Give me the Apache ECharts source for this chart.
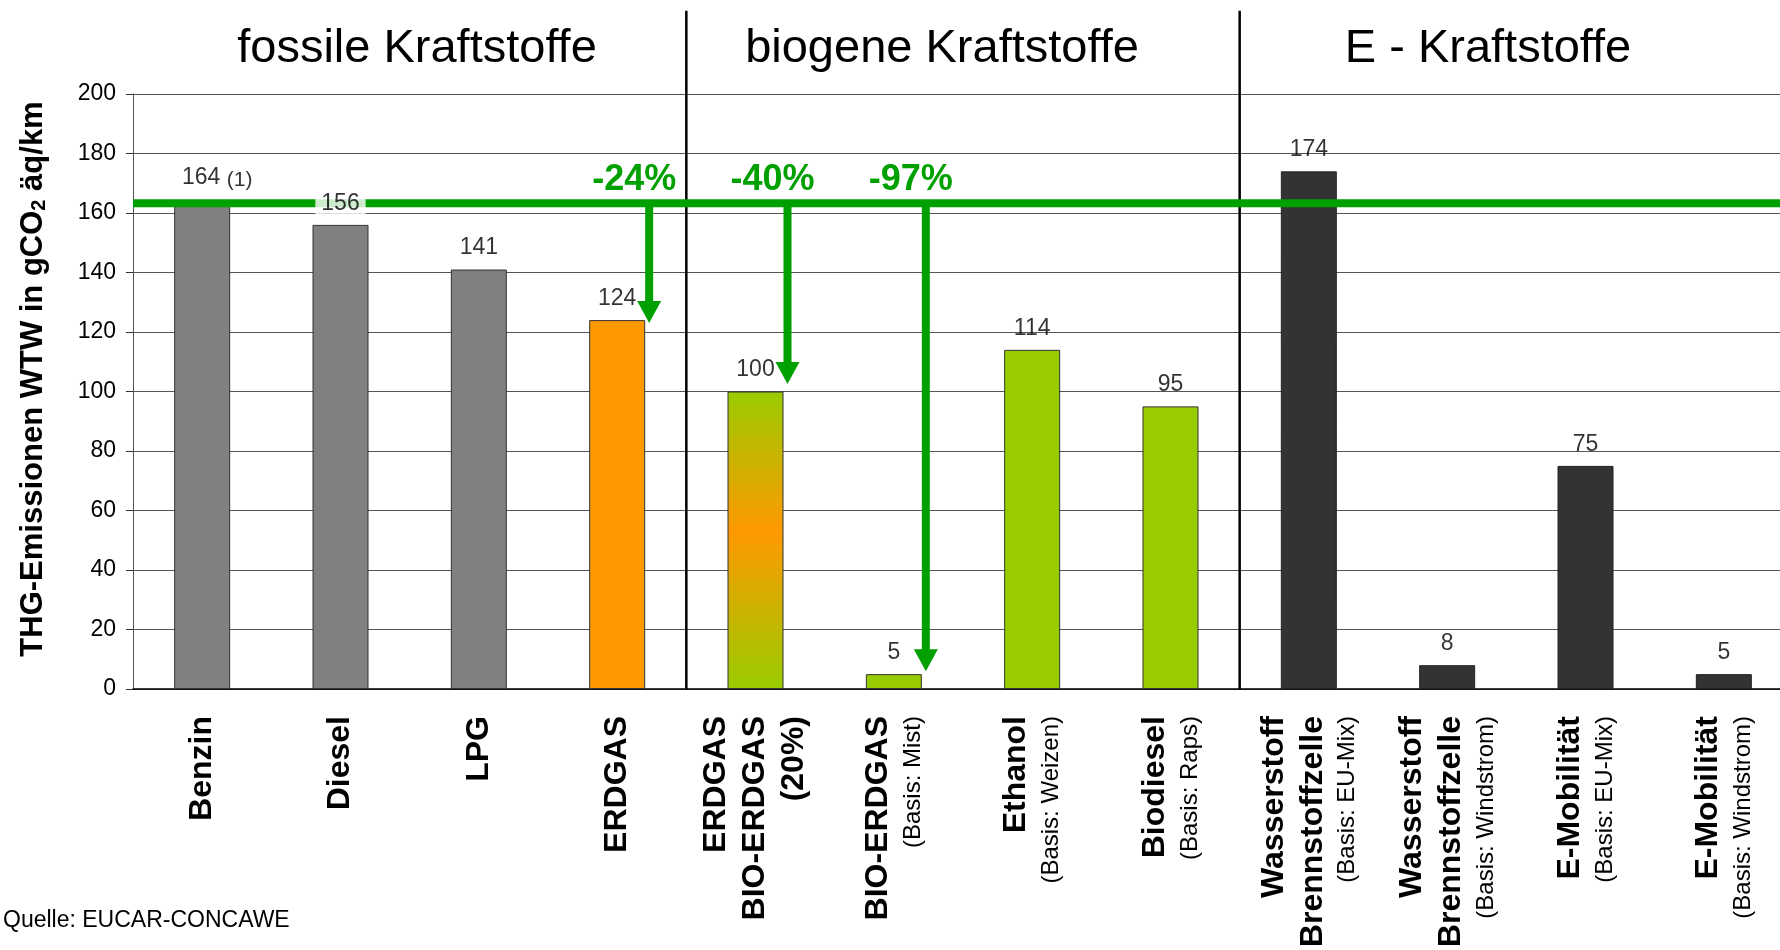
<!DOCTYPE html>
<html lang="de">
<head>
    <meta charset="UTF-8">
    <title>THG-Emissionen WTW</title>
    <style>html, body { margin: 0; padding: 0; background: #fff; }</style>
</head>
<body>
    <div id="main" style="width: 1780px;height:950px;"></div>
    <script src="https://cdn.jsdelivr.net/npm/echarts@6.0.0/dist/echarts.min.js"></script>
    <script type="text/javascript">
        var FONT = '"Liberation Sans", Arial, Helvetica, sans-serif';

        // Kategorien: fette Zeilen + Zusatz in Klammern
        var categories = ['Benzin', 'Diesel', 'LPG', 'ERDGAS', 'ERDGAS\nBIO-ERDGAS\n(20%)', 'BIO-ERDGAS',
            'Ethanol', 'Biodiesel', 'Wasserstoff\nBrennstoffzelle', 'Wasserstoff\nBrennstoffzelle',
            'E-Mobilität', 'E-Mobilität'];
        var categoryNotes = ['', '', '', '', '', '(Basis: Mist)', '(Basis: Weizen)', '(Basis: Raps)',
            '(Basis: EU-Mix)', '(Basis: Windstrom)', '(Basis: EU-Mix)', '(Basis: Windstrom)'];
        var emissions = [164, 156, 141, 124, 100, 5, 114, 95, 174, 8, 75, 5];
        var valueNotes = ['(1)', '', '', '', '', '', '', '', '', '', '', ''];
        var barKinds = ['fossil', 'fossil', 'fossil', 'erdgas', 'mix', 'bio', 'bio', 'bio', 'e', 'e', 'e', 'e'];

        var groupTitles = ['fossile Kraftstoffe', 'biogene Kraftstoffe', 'E - Kraftstoffe'];
        var groupSeparators = [4, 8];     // Trennlinie vor diesem Kategorie-Index
        var referenceValue = 163.3;       // Benzin-Niveau (gruene Linie)
        var arrowCategories = [3, 4, 5];
        var arrowTips = [123, 102.5, 6];
        var arrowTexts = ['-24%', '-40%', '-97%'];

        var Y_MIN = 0, Y_MAX = 200, Y_STEP = 20;

        var GREEN = '#00A000';
        var kindColors = {
            fossil: '#808080',
            erdgas: '#FF9900',
            mix: new echarts.graphic.LinearGradient(0, 0, 0, 1, [
                {offset: 0, color: '#99CC00'},
                {offset: 0.47, color: '#FF9900'},
                {offset: 1, color: '#99CC00'}
            ]),
            bio: '#99CC00',
            e: '#333333'
        };

        var myChart = echarts.init(document.getElementById('main'));

        var barData = emissions.map(function (v, i) {
            return {
                value: v,
                itemStyle: {color: kindColors[barKinds[i]], borderColor: barKinds[i] === 'e' ? '#222' : '#333', borderWidth: 1}
            };
        });

        // Wertebeschriftungen als eigene Serie (liegt ueber der gruenen Linie)
        var labelData = emissions.map(function (v, i) {
            var crossesLine = v < referenceValue && v > referenceValue - 12;
            return {
                value: [i, v],
                label: {
                    offset: valueNotes[i] ? [15, 0] : [0, 0],
                    backgroundColor: crossesLine ? '#fff' : 'transparent',
                    padding: crossesLine ? [0, 6] : 0
                }
            };
        });

        var option = {
            animation: false,
            title: groupTitles.map(function (t, i) {
                return {
                    text: t,
                    left: [417, 942, 1488][i],
                    top: 26,
                    padding: 0,
                    textAlign: 'center',
                    textStyle: {fontFamily: FONT, fontSize: 47, fontWeight: 'normal', color: '#000'}
                };
            }).concat([{
                text: 'Quelle: EUCAR-CONCAWE',
                left: 3,
                top: 909,
                padding: 0,
                textStyle: {fontFamily: FONT, fontSize: 23, fontWeight: 'normal', color: '#000'}
            }]),
            grid: {left: 133, top: 94, width: 1660, height: 595, outerBoundsMode: 'none'},
            xAxis: {
                type: 'category',
                data: categories,
                axisLine: {lineStyle: {color: '#000', width: 1.5}},
                axisTick: {length: 7, lineStyle: {color: '#000', width: 1}},
                axisLabel: {
                    interval: 0,
                    rotate: 90,
                    margin: 27,
                    color: '#000',
                    fontFamily: FONT,
                    formatter: function (val, idx) {
                        var s = val.split('\n').map(function (l) { return '{b|' + l + '}'; }).join('\n');
                        if (categoryNotes[idx]) s += '\n{s|' + categoryNotes[idx] + '}';
                        return s;
                    },
                    rich: {
                        b: {fontFamily: FONT, fontSize: 32, fontWeight: 'bold', color: '#000', lineHeight: 39},
                        s: {fontFamily: FONT, fontSize: 24, color: '#000', lineHeight: 31}
                    }
                }
            },
            yAxis: {
                type: 'value',
                min: Y_MIN,
                max: Y_MAX,
                interval: Y_STEP,
                name: 'THG-Emissionen WTW in gCO{sub|2} äq/km',
                nameLocation: 'middle',
                nameGap: 84,
                nameTextStyle: {
                    fontFamily: FONT, fontSize: 31, fontWeight: 'bold', color: '#000',
                    padding: [0, 0, 0, 25],
                    rich: {
                        sub: {fontFamily: FONT, fontSize: 20, fontWeight: 'bold', color: '#000', verticalAlign: 'bottom', lineHeight: 30}
                    }
                },
                axisLine: {show: true, lineStyle: {color: '#555', width: 1}},
                axisTick: {show: true, length: 7, lineStyle: {color: '#333'}},
                axisLabel: {fontFamily: FONT, fontSize: 23, color: '#000', margin: 17},
                splitLine: {lineStyle: {color: '#555', width: 1}}
            },
            series: [
                {
                    type: 'bar',
                    z: 2,
                    barWidth: 56,
                    data: barData,
                    silent: true
                },
                {
                    // Trennlinien zwischen den Gruppen
                    type: 'custom',
                    z: 2,
                    silent: true,
                    clip: false,
                    data: groupSeparators.map(function (c) { return [c, 0]; }),
                    encode: {x: 0, y: 1},
                    renderItem: function (params, api) {
                        var band = api.size([1, 0])[0];
                        var p0 = api.coord([api.value(0), 0]);
                        var p1 = api.coord([api.value(0), 228]);
                        var x = p0[0] - band / 2;
                        return {
                            type: 'line',
                            shape: {x1: x, y1: p0[1], x2: x, y2: p1[1]},
                            style: {stroke: '#000', lineWidth: 2.5}
                        };
                    }
                },
                {
                    // gruene Bezugslinie (Benzin)
                    type: 'custom',
                    z: 3,
                    silent: true,
                    clip: false,
                    data: [[0, referenceValue]],
                    encode: {x: 0, y: 1},
                    renderItem: function (params, api) {
                        var cs = params.coordSys;
                        var y = api.coord([0, api.value(1)])[1];
                        return {
                            type: 'line',
                            shape: {x1: cs.x, y1: y, x2: cs.x + cs.width, y2: y},
                            style: {stroke: GREEN, lineWidth: 8}
                        };
                    }
                },
                {
                    // Pfeile mit Einsparung
                    type: 'custom',
                    z: 3,
                    silent: true,
                    clip: false,
                    data: arrowCategories.map(function (c, i) { return [c, arrowTips[i], i]; }),
                    encode: {x: 0, y: 1},
                    renderItem: function (params, api) {
                        var cat = api.value(0);
                        var top = api.coord([cat, referenceValue]);
                        var tip = api.coord([cat, api.value(1)]);
                        var x = top[0] + 32;
                        var headH = 22, headW = 24;
                        var textPos = api.coord([cat, 171]);
                        return {
                            type: 'group',
                            children: [
                                {
                                    type: 'rect',
                                    shape: {x: x - 4, y: top[1], width: 8, height: tip[1] - headH - top[1] + 1},
                                    style: {fill: GREEN}
                                },
                                {
                                    type: 'polygon',
                                    shape: {points: [[x - headW / 2, tip[1] - headH], [x + headW / 2, tip[1] - headH], [x, tip[1]]]},
                                    style: {fill: GREEN}
                                },
                                {
                                    type: 'text',
                                    style: {
                                        text: arrowTexts[api.value(2)],
                                        x: textPos[0] + 17,
                                        y: textPos[1],
                                        align: 'center',
                                        verticalAlign: 'middle',
                                        font: 'bold 36px ' + FONT,
                                        fill: GREEN
                                    }
                                }
                            ]
                        };
                    }
                },
                {
                    // Wertebeschriftungen
                    type: 'scatter',
                    z: 5,
                    silent: true,
                    symbolSize: 0,
                    data: labelData,
                    label: {
                        show: true,
                        position: 'top',
                        distance: 10,
                        fontFamily: FONT,
                        fontSize: 23,
                        color: '#000',
                        formatter: function (p) {
                            var i = p.dataIndex;
                            return valueNotes[i] ? '{v|' + emissions[i] + '} {n|' + valueNotes[i] + '}' : String(emissions[i]);
                        },
                        rich: {
                            v: {fontFamily: FONT, fontSize: 23, color: '#000'},
                            n: {fontFamily: FONT, fontSize: 21, color: '#000', verticalAlign: 'bottom', lineHeight: 27}
                        }
                    }
                }
            ]
        };

        myChart.setOption(option);
    </script>
</body>
</html>
